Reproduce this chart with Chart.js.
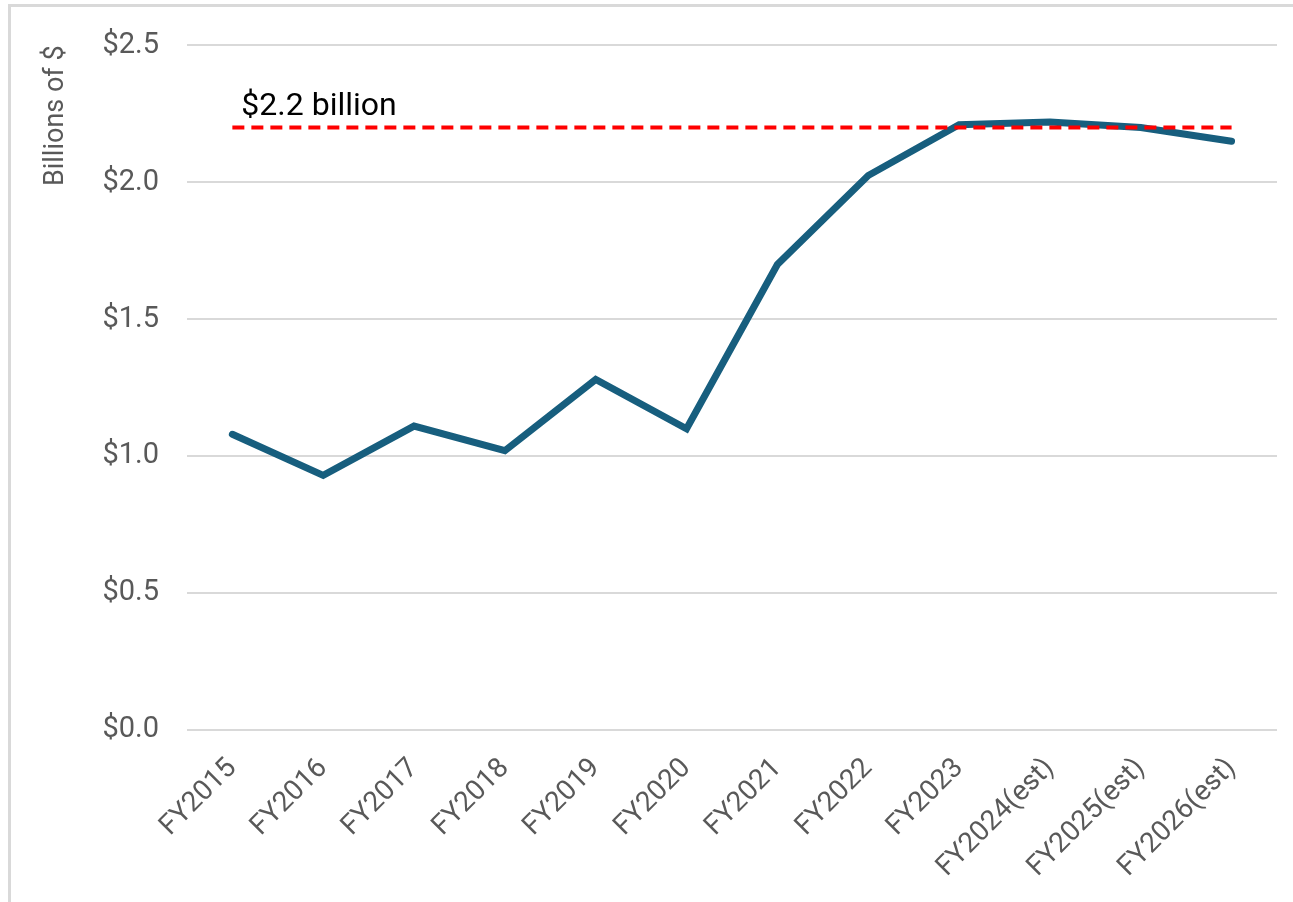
<html>
	<head>
		<meta charset="utf-8">
		<script src="https://cdn.jsdelivr.net/npm/chart.js"></script>
		<style>
			body { margin: 0; background: #fff; }
			#wrap { position: relative; width: 1293px; height: 902px; }
			#frameTop { position: absolute; left: 8px; top: 4px; width: 1285px; height: 3px; background: #d9d9d9; }
			#frameLeft { position: absolute; left: 8px; top: 4px; width: 3px; height: 898px; background: #d9d9d9; }
			canvas { position: absolute; left: 0; top: 0; }
		</style>
	</head>
	<body>
		<div id="wrap">
			<div id="frameTop"></div>
			<div id="frameLeft"></div>
			<canvas id="myChart" width="1293" height="902"></canvas>
		</div>

		<script>
			// Data
			const years = ['FY2015', 'FY2016', 'FY2017', 'FY2018', 'FY2019', 'FY2020',
				'FY2021', 'FY2022', 'FY2023', 'FY2024(est)', 'FY2025(est)', 'FY2026(est)'];
			const spending = [1.08, 0.93, 1.11, 1.02, 1.28, 1.10, 1.70, 2.025, 2.21, 2.22, 2.20, 2.15];
			const targetLevel = [2.2, 2.2, 2.2, 2.2, 2.2, 2.2, 2.2, 2.2, 2.2, 2.2, 2.2, 2.2];
			const targetLabel = '$2.2 billion';
			const yTitle = 'Billions of $';

			const FONT = 'Roboto, "Liberation Sans", sans-serif';
			const GREY = '#595959';

			// draws the "$2.2 billion" text just above the dashed line
			const targetText = {
				id: 'targetText',
				afterDatasetsDraw(chart) {
					const ctx = chart.ctx;
					const x = chart.scales.x.getPixelForValue(0);
					const y = chart.scales.y.getPixelForValue(targetLevel[0]);
					ctx.save();
					ctx.font = '32px ' + FONT;
					ctx.fillStyle = '#000';
					ctx.textAlign = 'left';
					ctx.textBaseline = 'alphabetic';
					ctx.fillText(targetLabel, x + 9, y - 13);
					ctx.restore();
				}
			};

			const ctx = document.getElementById('myChart');
			const chart = new Chart(ctx, {
				type: 'line',
				data: {
					labels: years,
					datasets: [
						{
							label: 'target',
							data: targetLevel,
							borderColor: '#ff0000',
							borderWidth: 4,
							borderDash: [12, 7],
							pointRadius: 0,
							order: 0
						},
						{
							label: 'spending',
							data: spending,
							borderColor: '#175e7e',
							borderWidth: 7,
							borderCapStyle: 'round',
							pointRadius: 0,
							tension: 0,
							order: 1
						}
					]
				},
				options: {
					responsive: false,
					animation: false,
					layout: { padding: { left: 40, right: 16, top: 28, bottom: 4 } },
					plugins: {
						legend: { display: false },
						tooltip: { enabled: false }
					},
					scales: {
						x: {
							offset: true,
							grid: { display: false },
							border: { display: false },
							ticks: {
								color: GREY,
								font: { family: FONT, size: 28 },
								minRotation: 45,
								maxRotation: 45,
								padding: 14
							}
						},
						y: {
							min: 0,
							max: 2.5,
							border: { display: false },
							grid: { color: '#d9d9d9', lineWidth: 2, drawTicks: false },
							ticks: {
								stepSize: 0.5,
								color: GREY,
								padding: 28,
								font: { family: FONT, size: 29 },
								callback: (v) => '$' + Number(v).toFixed(1)
							},
							title: {
								display: true,
								text: yTitle,
								align: 'end',
								color: GREY,
								font: { family: FONT, size: 27 },
								padding: { top: 0, bottom: 2 }
							}
						}
					}
				},
				plugins: [targetText]
			});
		</script>
	</body>
</html>
